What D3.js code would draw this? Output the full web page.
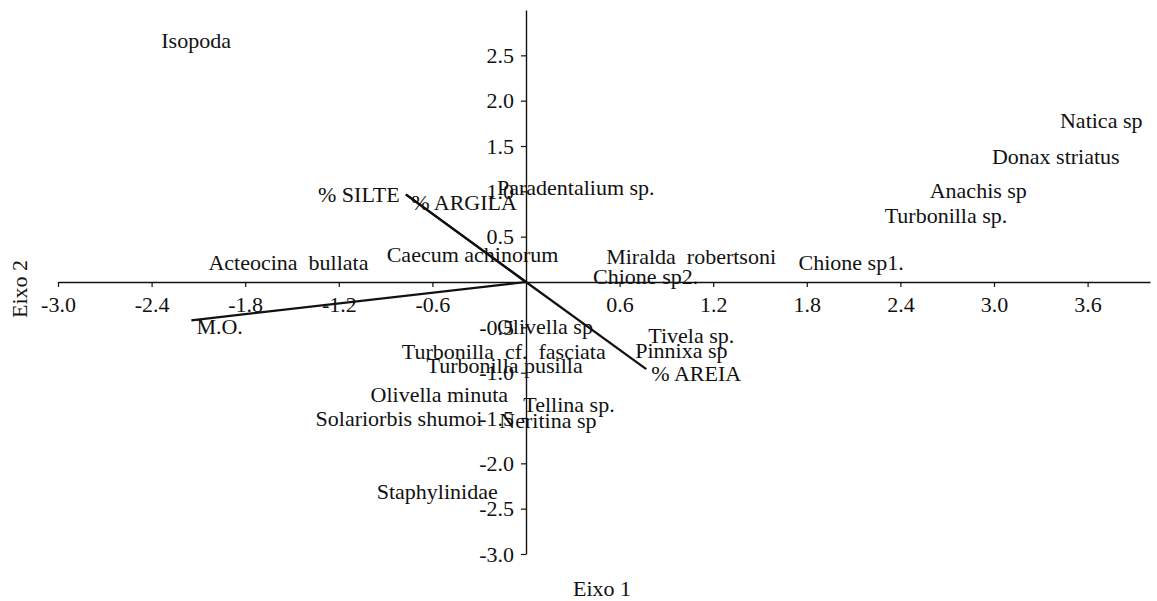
<!DOCTYPE html>
<html>
<head>
<meta charset="utf-8">
<script src="https://cdn.jsdelivr.net/npm/d3@7"></script>
<style>
  html, body { margin: 0; padding: 0; background: #ffffff; }
  svg { display: block; }
  text { font-family: "Liberation Serif", "Times New Roman", serif; fill: #111; }
</style>
</head>
<body>
<svg id="chart" width="1157" height="601"></svg>
<script>
// Species scores on the first two ordination axes
const speciesNames = [
  "Isopoda", "Natica sp", "Donax striatus", "Anachis sp", "Turbonilla sp.",
  "Chione sp1.", "Miralda  robertsoni", "Chione sp2.", "Paradentalium sp.",
  "Caecum achinorum", "Acteocina  bullata", "Olivella sp",
  "Turbonilla  cf.  fasciata", "Turbonilla pusilla", "Tivela sp.", "Pinnixa sp",
  "Olivella minuta", "Tellina sp.", "Solariorbis shumoi", "Neritina sp",
  "Staphylinidae"
];
const speciesAxis1 = [
  -2.338, 3.423, 2.987, 2.588, 2.299,
  1.747, 0.514, 0.430, -0.186,
  -0.893, -2.036, -0.186,
  -0.796, -0.638, 0.784, 0.700,
  -0.996, -0.017, -1.349, -0.171,
  -0.957
];
const speciesAxis2 = [
  2.665, 1.783, 1.386, 1.011, 0.735,
  0.218, 0.283, 0.063, 1.044,
  0.305, 0.217, -0.488,
  -0.768, -0.926, -0.588, -0.761,
  -1.246, -1.348, -1.503, -1.525,
  -2.308
];

// Environmental variables (biplot arrows)
const envNames = ["M.O.", "% SILTE", "% ARGILA", "% AREIA"];
const envAxis1 = [-2.145, -0.771, -0.768, 0.771];
const envAxis2 = [-0.423, 0.967, 0.963, -0.961];
const envLabelSide = ["below", "left", "lowerRight", "right"];

// Axis tick values
const xTicks = [-3.0, -2.4, -1.8, -1.2, -0.6, 0.6, 1.2, 1.8, 2.4, 3.0, 3.6];
const yTicks = [-3.0, -2.5, -2.0, -1.5, -1.0, -0.5, 0.5, 1.0, 1.5, 2.0, 2.5];

const xTitle = "Eixo 1";
const yTitle = "Eixo 2";

const fontSize = 22;
const svg = d3.select("#chart");

const x = d3.scaleLinear().domain([-3, 4]).range([58, 1150]);
const y = d3.scaleLinear().domain([-3, 3]).range([554, 10]);

// Plain hyphen for negative numbers
const fmt = v => d3.format(".1f")(v).replace("\u2212", "-");

// Axes crossing at the origin
const xAxis = d3.axisBottom(x)
  .tickValues(xTicks)
  .tickFormat(fmt)
  .tickSize(5)
  .tickSizeOuter(0)
  .tickPadding(9);
const yAxis = d3.axisLeft(y)
  .tickValues(yTicks)
  .tickFormat(fmt)
  .tickSize(5)
  .tickSizeOuter(0)
  .tickPadding(7);

const gx = svg.append("g")
  .attr("transform", `translate(0,${y(0)})`)
  .call(xAxis);
const gy = svg.append("g")
  .attr("transform", `translate(${x(0)},0)`)
  .call(yAxis);

[gx, gy].forEach(g => {
  g.select(".domain").attr("stroke", "#111").attr("stroke-width", 1.4);
  g.selectAll(".tick line").attr("stroke", "#111").attr("stroke-width", 1.2);
  g.selectAll(".tick text")
    .attr("font-family", "Liberation Serif, Times New Roman, serif")
    .attr("font-size", fontSize)
    .attr("fill", "#111");
});
gx.selectAll(".tick text").attr("text-anchor", "middle");

// Axis titles
svg.append("text")
  .attr("x", 602).attr("y", 596)
  .attr("text-anchor", "middle")
  .attr("font-size", fontSize)
  .text(xTitle);
svg.append("text")
  .attr("transform", "translate(27,289) rotate(-90)")
  .attr("text-anchor", "middle")
  .attr("font-size", fontSize)
  .text(yTitle);

// Environmental arrows
const env = envNames.map((n, i) => ({ name: n, a1: envAxis1[i], a2: envAxis2[i], side: envLabelSide[i] }));
svg.append("g").selectAll("line")
  .data(env)
  .join("line")
  .attr("x1", x(0)).attr("y1", y(0))
  .attr("x2", d => x(d.a1)).attr("y2", d => y(d.a2))
  .attr("stroke", "#111")
  .attr("stroke-width", 2.2);

const labelDx = { below: 5, left: -6, right: 5, lowerRight: 5 };
const labelDy = { below: 6, left: 0, right: 4, lowerRight: 8 };
svg.append("g").selectAll("text")
  .data(env)
  .join("text")
  .attr("font-size", fontSize)
  .attr("dominant-baseline", "central")
  .attr("text-anchor", d => d.side === "left" ? "end" : "start")
  .attr("x", d => x(d.a1) + labelDx[d.side])
  .attr("y", d => y(d.a2) + labelDy[d.side])
  .text(d => d.name);

// Species labels
const species = speciesNames.map((n, i) => ({ name: n, a1: speciesAxis1[i], a2: speciesAxis2[i] }));
svg.append("g").selectAll("text")
  .data(species)
  .join("text")
  .attr("font-size", fontSize)
  .attr("dominant-baseline", "central")
  .attr("text-anchor", "start")
  .attr("x", d => x(d.a1))
  .attr("y", d => y(d.a2))
  .attr("xml:space", "preserve")
  .style("white-space", "pre")
  .text(d => d.name);
</script>
</body>
</html>
